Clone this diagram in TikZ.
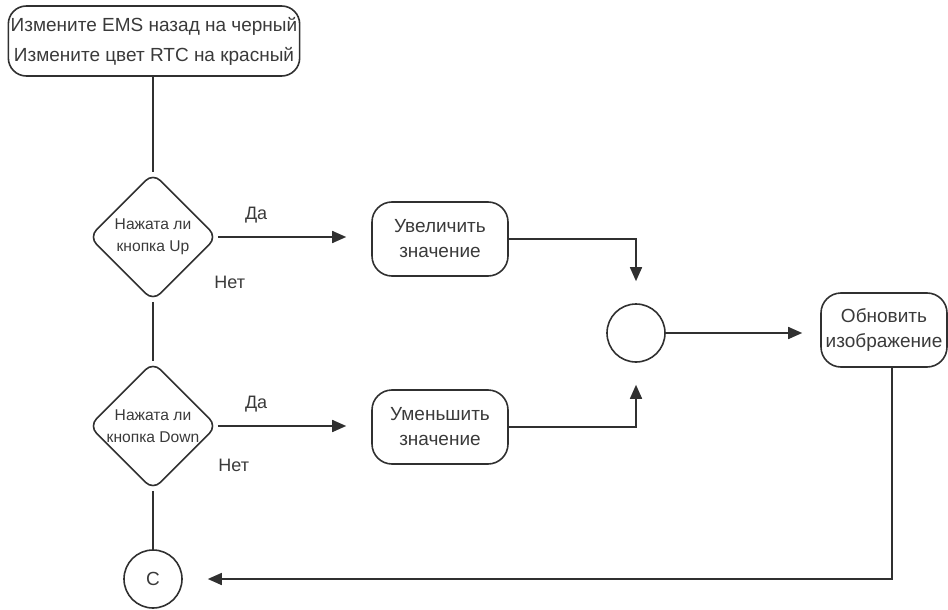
\documentclass[tikz,border=0pt]{standalone}
\usepackage{fontspec}
\setmainfont{Liberation Sans}
\usetikzlibrary{arrows.meta, positioning, shapes.geometric}

\definecolor{inkgray}{HTML}{303030}
\definecolor{textgray}{HTML}{3A3A3A}

\begin{document}
\begin{tikzpicture}[
    x=0.5pt, y=-0.5pt,
    line width=0.8pt,
    startbox/.style={rectangle, rounded corners=9pt, draw=inkgray, text=textgray, align=center, minimum width=144pt, minimum height=35pt, inner xsep=1.2pt, font=\fontsize{9.5}{15}\selectfont},
    action/.style={rectangle, rounded corners=10pt, draw=inkgray, text=textgray, align=center, minimum width=68pt, minimum height=37pt, inner sep=2pt, font=\fontsize{9.5}{12.5}\selectfont},
    decision/.style={diamond, rounded corners=5pt, draw=inkgray, text=textgray, align=center, minimum width=64pt, minimum height=64pt, inner sep=-7pt, font=\fontsize{7.8}{11}\selectfont},
    junction/.style={circle, draw=inkgray, text=textgray, minimum size=29pt, inner sep=0pt, font=\fontsize{9.5}{12}\selectfont},
    lbl/.style={text=textgray, font=\fontsize{9}{11}\selectfont},
    link/.style={draw=inkgray},
    arrow/.style={draw=inkgray, -{Triangle[length=7pt, width=6pt]}, shorten >=11pt}
]
    \useasboundingbox (0,0) rectangle (948,610);

    \node[startbox] (init) at (154,41) {Измените EMS назад на черный\\Измените цвет RTC на красный};
    \node[decision] (up) at (153,237) {Нажата ли\\кнопка Up};
    \node[decision] (down) at (153,426) {Нажата ли\\кнопка Down};
    \node[junction] (cont) at (153,579) {C};
    \node[action] (inc) at (440,239) {Увеличить\\значение};
    \node[action] (dec) at (440,427) {Уменьшить\\значение};
    \node[junction] (join) at (636,333) {};
    \node[action, minimum width=63pt] (show) at (884,330) {Обновить\\изображение};

    \draw[link] (init.south -| up.north) -- (up);
    \draw[link] (up) -- (down);
    \draw[link] (down) -- (cont);
    \draw[arrow, shorten >=12.5pt] (up.east) -- node[lbl, above=3pt, pos=0.25] {Да} (up.east -| inc.west);
    \draw[arrow, shorten >=12.5pt] (down.east) -- node[lbl, above=3pt, pos=0.25] {Да} (down.east -| dec.west);
    \node[lbl] (noup) at ([shift={(6pt,-22.5pt)}]up.east) {Нет};
    \node[lbl] (nodown) at ([shift={(8pt,-19.5pt)}]down.east) {Нет};
    \draw[arrow] (inc.east) -| (join);
    \draw[arrow] (dec.east) -| (join);
    \draw[arrow, shorten >=9pt] (join.east) -- (join.east -| show.west);
    \draw[arrow, shorten >=12.5pt] ([xshift=4pt]show.south) |- (cont);
\end{tikzpicture}
\end{document}
